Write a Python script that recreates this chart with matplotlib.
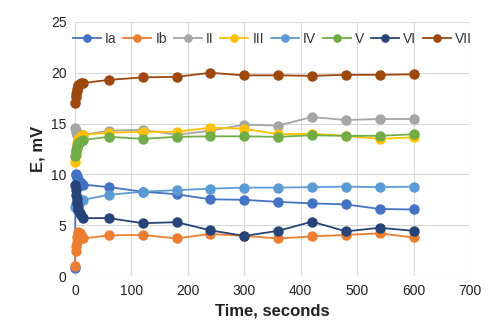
import matplotlib.pyplot as plt

plt.rcParams['font.family'] = ['Liberation Sans', 'DejaVu Sans']

# sampling times, s (dense at the start, then every minute)
time = [0, 1, 2, 3, 4, 5, 6, 8, 10, 15,
        60, 120, 180, 240, 300, 360, 420, 480, 540, 600]

ia = [0.8, 10.0, 9.9, 9.8, 9.6, 9.5, 9.4, 9.3, 9.2, 9.0,
      8.75, 8.3, 8.05, 7.55, 7.5, 7.3, 7.15, 7.05, 6.6, 6.55]
ib = [1.0, 2.5, 3.0, 3.4, 3.8, 4.1, 4.3, 4.2, 4.0, 3.7,
      4.0, 4.05, 3.7, 4.15, 3.95, 3.7, 3.9, 4.05, 4.2, 3.8]
ii = [14.6, 14.4, 14.2, 14.0, 13.9, 13.8, 13.8, 13.8, 13.9, 13.9,
      14.3, 14.4, 13.9, 14.3, 14.9, 14.8, 15.65, 15.35, 15.45, 15.45]
iii = [11.2, 11.9, 12.4, 12.8, 13.1, 13.3, 13.5, 13.6, 13.8, 13.9,
       14.1, 14.2, 14.2, 14.6, 14.5, 13.95, 14.0, 13.8, 13.5, 13.65]
iv = [6.8, 7.0, 7.1, 7.2, 7.3, 7.3, 7.4, 7.4, 7.5, 7.5,
      8.0, 8.3, 8.45, 8.6, 8.7, 8.7, 8.75, 8.8, 8.75, 8.8]
v = [11.8, 12.1, 12.4, 12.6, 12.8, 13.0, 13.1, 13.2, 13.3, 13.4,
     13.7, 13.5, 13.7, 13.75, 13.75, 13.7, 13.85, 13.8, 13.8, 13.95]
vi = [9.0, 8.5, 8.0, 7.6, 7.2, 6.8, 6.5, 6.2, 6.0, 5.7,
      5.7, 5.2, 5.3, 4.5, 3.95, 4.45, 5.35, 4.4, 4.75, 4.45]
vii = [17.0, 17.6, 17.9, 18.2, 18.4, 18.6, 18.8, 18.9, 19.0, 19.0,
       19.3, 19.55, 19.6, 20.0, 19.75, 19.75, 19.7, 19.8, 19.8, 19.85]

labels = ['Ia', 'Ib', 'II', 'III', 'IV', 'V', 'VI', 'VII']
colors = ['#4472C4', '#ED7D31', '#A5A5A5', '#FFC000',
          '#5B9BD5', '#70AD47', '#264478', '#9E480E']
series = [ia, ib, ii, iii, iv, v, vi, vii]

fig = plt.figure(figsize=(5, 3.33), dpi=100)
ax = fig.add_axes([0.15, 0.171, 0.79, 0.763])

for y, lab, c in zip(series, labels, colors):
    ax.plot(time, y, color=c, label=lab, linewidth=1.3,
            marker='o', markersize=6.5, clip_on=False)

ax.set_xlim(0, 700)
ax.set_ylim(0, 25)
ax.set_xticks(range(0, 701, 100))
ax.set_yticks(range(0, 26, 5))
ax.grid(True, color='#D9D9D9', linewidth=0.8)
ax.set_axisbelow(True)
for s in ax.spines.values():
    s.set_visible(False)
ax.tick_params(length=0, labelsize=10, colors='#222222', pad=6)

ax.set_xlabel('Time, seconds', fontsize=12, fontweight='bold', color='#222222')
ax.set_ylabel('E, mV', fontsize=12, fontweight='bold', color='#222222')

ax.legend(loc='upper center', bbox_to_anchor=(0.5, 1.0), ncol=8,
          frameon=False, fontsize=10, handlelength=2.0, handletextpad=0.3,
          columnspacing=0.5, markerscale=0.8, borderaxespad=0.3,
          labelcolor='#333333')

fig.savefig('out.png', dpi=100)
